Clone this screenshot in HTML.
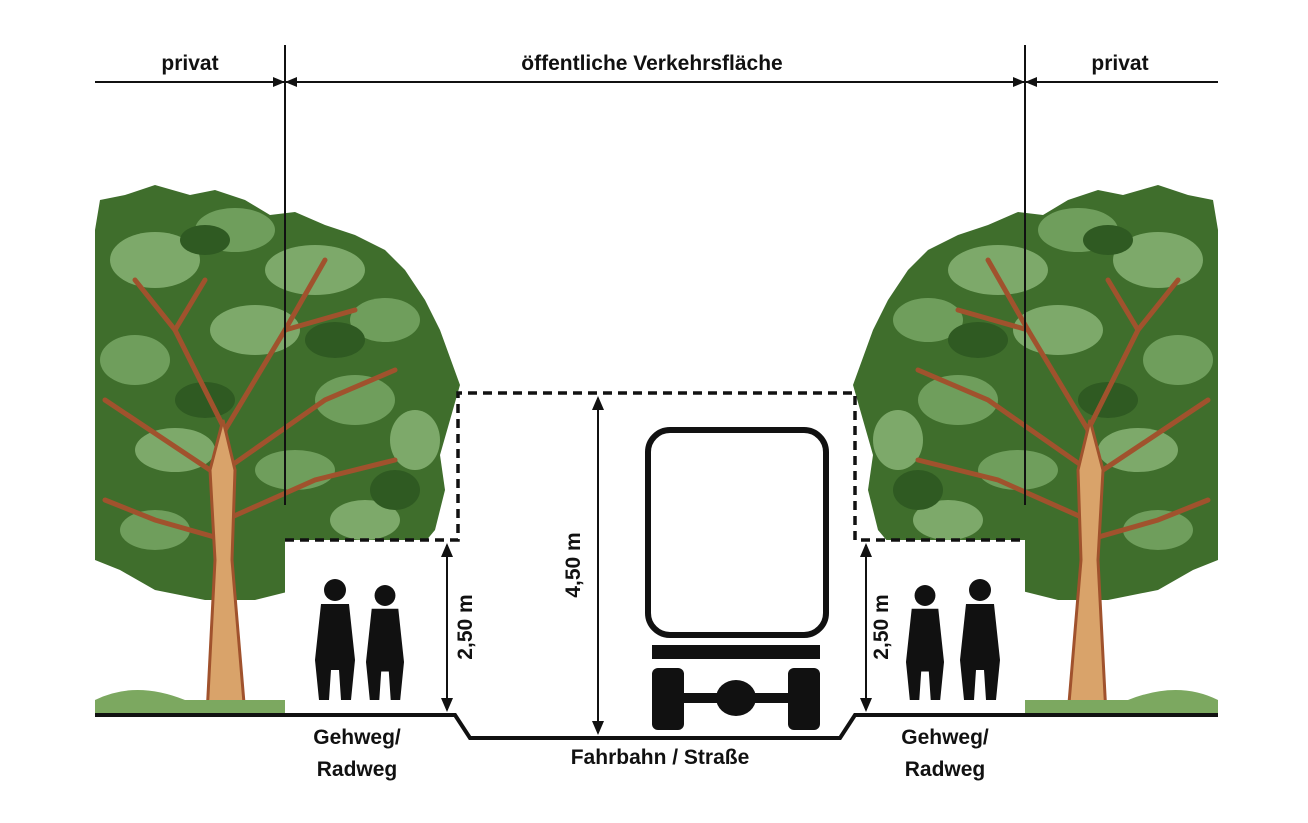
<!DOCTYPE html>
<html><head><meta charset="utf-8"><style>
html,body{margin:0;padding:0;background:#fff;}
svg{display:block;}
text{font-family:"Liberation Sans",sans-serif;font-weight:bold;fill:#111;}
</style></head><body>
<svg width="1308" height="823" viewBox="0 0 1308 823" xmlns="http://www.w3.org/2000/svg">
<defs>
<g id="tree">
 <path d="M0,230 L5,200 L30,195 L60,185 L95,195 L120,190 L150,200 L175,215 L200,212 L230,225 L260,235 L290,250 L310,270 L330,300 L345,330 L365,385 L355,420 L345,455 L350,490 L340,530 L315,560 L280,575 L240,585 L200,590 L160,600 L110,600 L60,590 L25,570 L0,560 Z" fill="#3f6e2c"/>
 <ellipse cx="60" cy="260" rx="45" ry="28" fill="#7da96a"/>
 <ellipse cx="140" cy="230" rx="40" ry="22" fill="#6f9e5c"/>
 <ellipse cx="220" cy="270" rx="50" ry="25" fill="#7da96a"/>
 <ellipse cx="290" cy="320" rx="35" ry="22" fill="#6f9e5c"/>
 <ellipse cx="40" cy="360" rx="35" ry="25" fill="#6f9e5c"/>
 <ellipse cx="160" cy="330" rx="45" ry="25" fill="#7da96a"/>
 <ellipse cx="260" cy="400" rx="40" ry="25" fill="#6f9e5c"/>
 <ellipse cx="320" cy="440" rx="25" ry="30" fill="#7da96a"/>
 <ellipse cx="80" cy="450" rx="40" ry="22" fill="#7da96a"/>
 <ellipse cx="200" cy="470" rx="40" ry="20" fill="#6f9e5c"/>
 <ellipse cx="60" cy="530" rx="35" ry="20" fill="#6f9e5c"/>
 <ellipse cx="270" cy="520" rx="35" ry="20" fill="#7da96a"/>
 <ellipse cx="110" cy="240" rx="25" ry="15" fill="#2f5a22"/>
 <ellipse cx="240" cy="340" rx="30" ry="18" fill="#2f5a22"/>
 <ellipse cx="110" cy="400" rx="30" ry="18" fill="#2f5a22"/>
 <ellipse cx="300" cy="490" rx="25" ry="20" fill="#2f5a22"/>
 <g stroke="#a0522d" stroke-width="5" fill="none" stroke-linecap="round">
  <path d="M130,600 L130,430 L80,330 L40,280"/>
  <path d="M130,430 L190,330 L230,260"/>
  <path d="M130,480 L40,420 L10,400"/>
  <path d="M130,470 L230,400 L300,370"/>
  <path d="M130,540 L60,520 L10,500"/>
  <path d="M130,520 L220,480 L300,460"/>
  <path d="M80,330 L110,280"/>
  <path d="M190,330 L260,310"/>
 </g>
 <path d="M112,715 L120,560 L115,470 L128,420 L140,470 L137,560 L150,715 Z" fill="#d9a36a" stroke="#a0522d" stroke-width="3"/>
 <path d="M0,700 Q40,680 90,700 L200,700 Q230,690 260,705 L260,715 L0,715 Z" fill="#7ca860"/>
</g>
<g id="person">
 <circle cx="0" cy="-110" r="11" fill="#111"/>
 <path d="M-14,-96 L14,-96 L20,-40 L16,0 L6,0 L4,-30 L-4,-30 L-6,0 L-16,0 L-20,-40 Z" fill="#111"/>
</g>
</defs>
<use href="#tree" transform="translate(95,0)"/>
<use href="#tree" transform="translate(1218,0) scale(-1,1)"/>
<rect x="285" y="540" width="173" height="175" fill="#fff"/>
<rect x="855" y="540" width="170" height="175" fill="#fff"/>
<rect x="458" y="393" width="397" height="330" fill="#fff"/>
<g stroke="#111" stroke-width="2" fill="#111">
 <line x1="95" y1="82" x2="1218" y2="82"/>
 <line x1="285" y1="45" x2="285" y2="505"/>
 <line x1="1025" y1="45" x2="1025" y2="505"/>
 <path d="M285,82 l-12,-5 v10 z M285,82 l12,-5 v10 z M1025,82 l-12,-5 v10 z M1025,82 l12,-5 v10 z" stroke="none"/>
</g>
<text x="190" y="70" font-size="21" text-anchor="middle">privat</text>
<text x="652" y="70" font-size="21" text-anchor="middle">öffentliche Verkehrsfläche</text>
<text x="1120" y="70" font-size="21" text-anchor="middle">privat</text>
<path d="M285,540 H458 V393 H855 V540 H1025" fill="none" stroke="#111" stroke-width="3.5" stroke-dasharray="9,6"/>
<path d="M95,715 H455 L470,738 H840 L855,715 H1218" fill="none" stroke="#111" stroke-width="4"/>
<g stroke="#111" stroke-width="2" fill="#111">
 <line x1="598" y1="398" x2="598" y2="733"/>
 <path d="M598,396 l-6,14 h12 z M598,735 l-6,-14 h12 z" stroke="none"/>
 <line x1="447" y1="545" x2="447" y2="710"/>
 <path d="M447,543 l-6,14 h12 z M447,712 l-6,-14 h12 z" stroke="none"/>
 <line x1="866" y1="545" x2="866" y2="710"/>
 <path d="M866,543 l-6,14 h12 z M866,712 l-6,-14 h12 z" stroke="none"/>
</g>
<text transform="translate(580,565) rotate(-90)" font-size="21" text-anchor="middle">4,50 m</text>
<text transform="translate(472,627) rotate(-90)" font-size="21" text-anchor="middle">2,50 m</text>
<text transform="translate(888,627) rotate(-90)" font-size="21" text-anchor="middle">2,50 m</text>
<rect x="648" y="430" width="178" height="205" rx="22" fill="none" stroke="#111" stroke-width="6"/>
<rect x="652" y="645" width="168" height="14" fill="#111"/>
<rect x="652" y="668" width="32" height="62" rx="6" fill="#111"/>
<rect x="788" y="668" width="32" height="62" rx="6" fill="#111"/>
<rect x="684" y="693" width="104" height="10" fill="#111"/>
<ellipse cx="736" cy="698" rx="20" ry="18" fill="#111"/>
<use href="#person" transform="translate(335,700)"/>
<use href="#person" transform="translate(385,700) scale(0.95)"/>
<use href="#person" transform="translate(925,700) scale(0.95)"/>
<use href="#person" transform="translate(980,700)"/>
<text x="357" y="744" font-size="21" text-anchor="middle">Gehweg/</text>
<text x="357" y="776" font-size="21" text-anchor="middle">Radweg</text>
<text x="660" y="764" font-size="21" text-anchor="middle">Fahrbahn / Straße</text>
<text x="945" y="744" font-size="21" text-anchor="middle">Gehweg/</text>
<text x="945" y="776" font-size="21" text-anchor="middle">Radweg</text>
</svg>
</body></html>
